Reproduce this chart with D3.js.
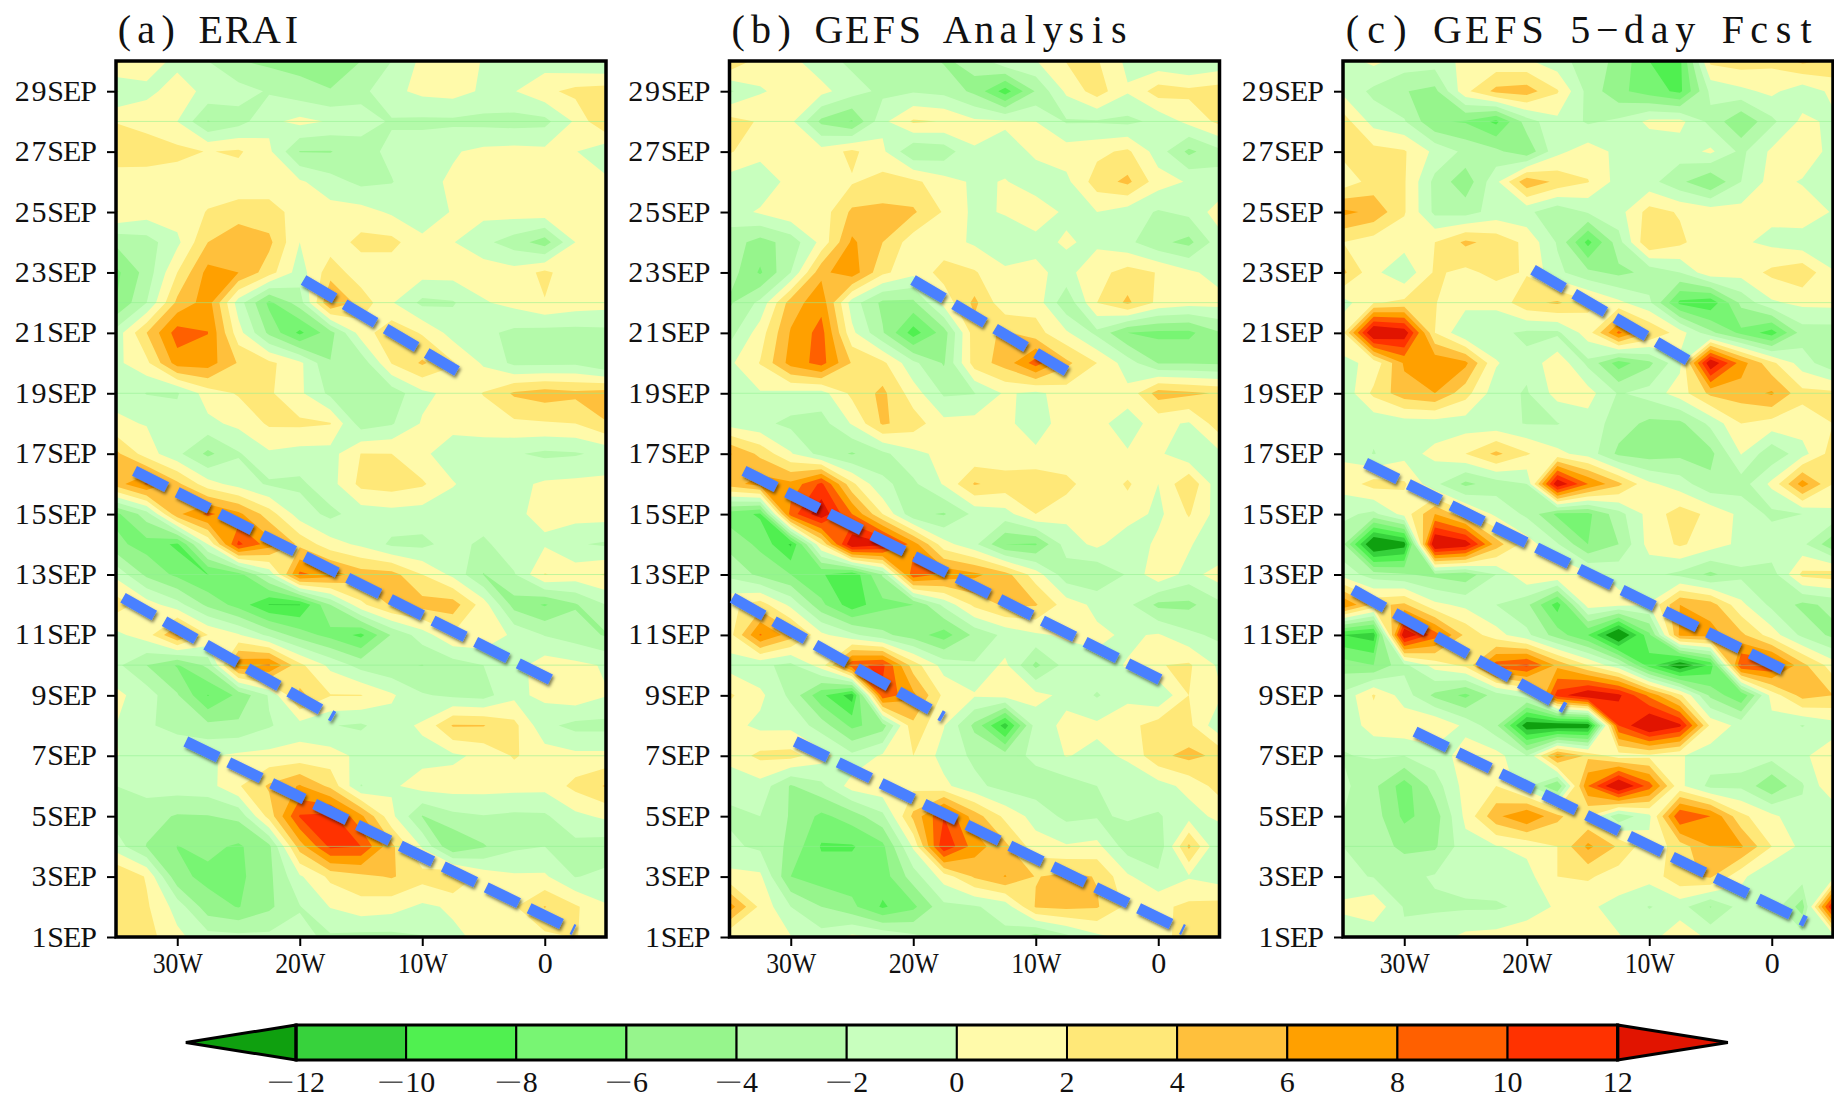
<!DOCTYPE html>
<html>
<head>
<meta charset="utf-8">
<script src="https://cdn.jsdelivr.net/npm/d3@7"></script>
<style>
  html, body { margin: 0; padding: 0; background: #fff; }
  svg { display: block; }
  text { font-family: "Liberation Serif", serif; fill: #111; }
</style>
</head>
<body>
<svg id="chart" width="1834" height="1096"></svg>
<script>
// longitudes of the grid columns, 35W .. 5E
var lons = [-35,-32.5,-30,-27.5,-25,-22.5,-20,-17.5,-15,-12.5,-10,-7.5,-5,-2.5,0,2.5,5];
// days of the grid rows, top row first
var days = d3.range(30, 0, -1);

var levels = [-12,-10,-8,-6,-4,-2,0,2,4,6,8,10,12];
var bandColors = ["rgb(15,160,15)","rgb(55,210,60)","rgb(80,240,80)","rgb(120,245,115)","rgb(150,245,140)",
  "rgb(180,250,170)","rgb(200,255,190)","rgb(255,250,170)","rgb(255,232,120)","rgb(255,192,60)",
  "rgb(255,160,0)","rgb(255,96,0)","rgb(255,50,0)","rgb(225,20,0)"];

var yTicks = d3.range(1, 30, 2);
var xTicks = [-30,-20,-10,0];
var seamDays = [4,7,10,13,19,22,28];

var gridErai = [
[2.5,1,-0.5,-2,-3.9,-4.5,-4.8,-5,-4,-2,0.5,1.7,-0.2,-1,-1,-1.8,-2.2],
[-2.2,-0.5,0.8,-0.5,-1.2,-2.2,-3.2,-3.9,-2.6,-0.5,0.5,0.8,-0.3,-0.1,1.5,2.6,3],
[1.9,1.2,0,-4.1,-2.8,-0.5,0.6,-0.2,-1.2,-2.2,-2.4,-2.4,-2.6,-2.8,-2.6,0.3,4.2],
[3.5,3.2,2.6,1.9,2.3,0.4,-4.1,-4.1,-2.8,-1.5,-1,-0.2,0.5,0.7,0.5,0.1,-1.6],
[0.6,0.8,0.8,1.2,0.9,0.9,0.3,-1.2,-2.5,-2.1,-0.6,0.3,0.8,0.8,0.8,0.8,0.5],
[2.1,1,1,2.1,2.8,2.8,1.2,0.8,0.8,-0.3,-1.5,0.2,0.6,0.9,1.2,1.6,0.3],
[-3.6,-2.9,-0.5,4,5.8,4.5,0,0.9,2.6,2.6,0.6,0.1,-1.5,-3,-5,0,0.3],
[-6.5,-3.2,2,6.7,6,2.9,-1,3.2,0.8,0.8,0.8,0.8,1.2,0.8,2.5,0.6,0.5],
[-6,-2,4.5,7,-1,-6.5,-3,6.2,3.2,0.2,-2.5,-2.2,-0.2,0.6,1.9,1.1,0.8],
[-1.2,4,9,8.05,0.8,-4.5,-8.5,-4.8,1,3.3,1.8,-0.8,-1.5,-2.5,-2.8,-2.8,-2.6],
[-0.5,1.5,7,7,3.8,2.5,0.5,-3.9,-3.4,2.1,4.3,2.2,-0.3,-2.5,-2.5,-2.4,-4.1],
[-0.5,-2.1,-2.2,1,2.2,2.3,0.4,-2.5,-3.7,-3.2,-0.5,0.6,2.1,4.3,5,4.5,5],
[0.3,-0.1,-1.2,-0.5,0.5,2.3,2.4,2.1,-3,-2.2,0.2,0.5,1,1.6,1.8,2,3.9],
[4.5,1,-1.5,-4.5,-2.2,-0.3,-0.8,-0.8,2.05,2,0.3,-0.8,-1.2,-1.8,-2.4,-2.2,-1.5],
[5,8.3,4.5,0.8,-0.8,-2.3,-2.4,-0.8,2.6,3,2.3,0.1,-0.8,-0.5,0.3,0.5,0.6],
[-6.5,-3,5.5,8.5,6.5,3,-1,-2.5,-1.1,-0.8,-1,-0.8,-0.6,-0.2,0.3,0.8,0.8],
[-5.5,-6.8,-8.4,0,10.5,7,3.5,0.8,-0.4,-2.4,-2.5,-1.2,-2.5,-0.5,-0.2,-1.8,-2.3],
[-0.5,-4.5,-6.5,-8.05,-6.9,-1.5,8.5,7,5,4.8,2,-0.5,-4.1,-2.2,2.1,1.2,2.2],
[3,1,-1.2,-4.5,-6.8,-10.1,-10.1,-4,1.5,4.3,4.8,5,1,-4.8,-6.2,-4.2,-2],
[-0.5,1,6.3,2,0.2,-2.5,-5,-6.7,-8.5,-3.8,-1,1.8,1.7,-0.5,-2.1,-3,-4.2],
[-1.5,-4,-6.2,-3.5,7.5,8.3,2.5,-0.5,-2.8,-3.7,-4.05,-3,-2,-0.8,1,0.5,-0.2],
[0.5,-1,-3.8,-8.1,-5.5,-1.8,4.5,2.1,2.1,0.3,-1.8,-2.4,-2.8,-0.5,0.5,1.3,0.1],
[0,-1.8,-2.5,-3.5,-3.6,-2.2,-0.8,-1.9,-2.3,-0.8,0.3,4.2,4.1,2.6,-1.5,-2.6,-2.6],
[0.05,-0.5,-0.8,-0.2,0.4,0.6,0.7,0.8,-0.5,-0.8,-0.6,-0.4,0.5,2.2,1,0.5,0.5],
[-2,-1.2,-1,-0.8,1.8,4.3,6.2,3.5,-2.1,-0.3,0.8,0.9,0.8,0.7,0.6,2.6,4.2],
[-3,-3.2,-4.2,-4.1,-3.5,2.8,10.2,10.7,6.5,0.5,-4.1,-2.5,-2.1,-2.4,-2.3,-0.5,0.4],
[-1,-4.1,-6.05,-5.5,-6.3,-4.5,5,10.5,10,4.5,-0.2,-6,-4.2,-2.4,-2,-2.6,-3.1],
[4.1,1.8,-5.5,-6.5,-6.5,-4.5,-0.3,2.5,3.5,4.2,2.8,4.1,1.2,0.3,0.3,-2.1,-1.5],
[2.5,2.3,-0.8,-5.2,-6.1,-4.4,-2.1,0.1,1.2,0.8,-0.4,0.3,0.8,1.8,4.1,2.3,0.2],
[3,2.8,0.5,-1.2,-1.4,-1.5,-1.6,-2.3,-2.6,-2.6,-2.1,-0.4,0.5,1.2,1.5,2.1,1]
];

var gridAnalysis = [
[4,1,0.5,-1.1,-2.5,-2.2,-2.8,-4.2,-3.5,-0.3,-0.1,2.1,2.2,-0.5,-1.5,-2.2,-1.5],
[-2.3,-0.2,0.7,0.6,-1.1,-2.5,-2.2,-2.6,-4.5,-9,-3.8,0.4,3,0.2,3,2.5,3],
[2.8,1.8,0.5,-4.5,-6.2,-0.5,2.3,1.9,0.4,0.3,0,-2.2,-2.2,-2.5,-1.5,0.6,2.5],
[2.2,0.8,1.7,0.8,2.5,0.4,-3.8,-3.2,-0.1,-0.8,0.3,1,1.5,2.4,-1,-4.5,-2.5],
[-1,-1.6,0.8,0.9,1.8,2.8,2.5,0.8,-0.3,0.1,-0.8,-0.5,3,4.5,0.9,-0.2,-1.5],
[-1,0.3,1.5,0.9,4.4,4.5,4.3,1.8,-0.5,0.2,0.9,-0.3,0,-1,-2.2,-1.5,1],
[-3,-4.8,-3.2,0.6,6.4,4,0.9,0.8,-0.3,-1.5,-0.5,0.2,-0.4,-1.5,-3.5,-4.6,-0.8],
[-3,-6.3,-2,5.5,7.2,2.5,0.6,2.8,2.2,0.4,0.4,-0.6,1.3,2.8,1.9,0.4,-0.8],
[-4.3,-1.5,5,7.3,-1,-4.5,-4.5,0.8,4.5,0.5,1.2,-3.5,2,4.4,1.5,0.8,0.7],
[-2.8,1,6.2,8.8,0.5,-3.8,-9,-5,3.2,4.3,2.8,0.3,-2.5,-6,-6.5,-6.5,-4.2],
[-0.4,2.1,6.8,8.8,3.8,2.5,-1.5,-4.2,3,4.8,9,4.5,2,-1,-4.1,-4.1,-4.3],
[-0.6,-0.2,-0.6,-0.8,2.5,4.5,1,-2.3,-2.1,0.3,-0.5,1,0.5,0.5,5,4.4,3.8],
[-0.8,-1.5,-2.5,-2.8,0.2,4.3,3,0.6,0.8,0.7,-1.5,1.5,0.3,-0.5,0.5,-0.2,3.2],
[6.2,3.5,0.2,-2.8,-4.2,-2.5,-0.5,0.5,0.3,0.5,0.6,0.1,0.6,0.1,0.4,-1.6,-0.4],
[5,7,6.5,10.5,2.5,-1.8,-2.4,0.2,4.2,3.2,3.3,2.8,0.3,2.3,0,3.8,-1.6],
[-7,-8.3,9,13.5,8,2,-3.5,-4.2,-1.5,-0.8,2,0.5,0.3,1,-0.5,2.2,-1],
[-4.6,-6.5,-10.3,2,14,12.5,7,0.8,-1.5,-6,-6.2,-1,0.5,-1.5,0.5,0.3,-2],
[-2.5,-4.5,-6,-7.8,-9.5,-3.8,9.5,7.5,6.5,4.8,1,-3.2,-3.8,-1.8,1.5,-0.8,1],
[1.5,3,-0.5,-5.5,-9.2,-6.6,-6,-1.5,2.5,4.4,4.2,1,-0.5,-1.5,-4.5,-4.5,-2.5],
[1.2,8.2,5,0.5,-1.5,-3.5,-5,-7,-3.5,-1.5,-0.3,0.3,0.4,-0.3,0.2,-1.5,-2.5],
[-0.8,-1.6,-2.5,1,9.5,10.5,3,-0.8,-1.8,0.5,-4.5,-1.2,-0.5,0.1,1.9,2.3,-0.4],
[2.3,0.5,-2.5,-7.5,-11,9.5,6.5,1.5,0.2,0.8,0.6,-0.5,-2.2,-0.5,-1.8,2,0.3],
[0.7,-0.5,-0.5,-3,-6.5,-5,3.5,0.1,-4.5,-11,-1,0.5,0.4,1.3,3,2.5,-1.5],
[0.8,2.5,2.7,0.9,-1.5,0.3,2,-0.8,-2.4,-3,-1.5,0.1,-0.5,0.3,3.5,4.6,3.5],
[-1.5,-0.8,-4.2,-2.5,0.9,1.5,1.5,0.5,-1.5,-2.7,-3,-3,-2,-1.2,-0.8,0.6,2.8],
[-2.3,-2,-4.2,-6.5,-5,-2.5,4.5,10,5,1.5,-0.8,-2.5,-2.2,-1.8,-2.2,-0.8,0.5],
[-1.6,-2.4,-4.5,-8.2,-8.2,-6.5,0.3,11.8,7,4.5,0.9,0.2,0.6,-3,-3.5,4.4,-2],
[0.6,0.4,-6,-7,-7,-7,-3,0.9,4.3,6.1,3.9,4.5,3.9,0.3,-1.5,-0.2,-1],
[7,1.5,-2,-4,-5.5,-8.3,-6.5,-2.5,-2.2,-1.2,4.2,4.5,4.2,1.5,1.5,2.5,2.8],
[0.3,0.5,0.1,-1.2,0.5,-0.2,-1.5,-2.8,-2,-2.5,-5,-2.6,-0.5,0.5,0.8,3.5,3]
];

var gridForecast = [
[-0.8,0.5,-0.8,-1,0.5,0.5,0.3,-1.2,-3,-4.5,-8,-8.5,2.5,3,2.5,4.5,3.8],
[-0.5,-2.5,-3.9,-4.6,1.5,4.6,5,2.2,-2.7,-5.5,-7,-8.5,-1.5,-0.5,0.5,-1.3,0.5],
[3,-0.8,-1.8,-5.8,-6.2,-8.5,-3,-0.5,-2.3,-1.6,0.5,0.6,-2.6,-5.8,-2.5,0.5,-0.4],
[2.5,2.7,2.2,-0.5,-2.5,-3.5,-5.5,-0.5,1,-0.5,-1.5,-1,0.4,-2.5,0.4,1.5,-0.8],
[0.8,2.8,2.2,-2.6,-5.3,-0.5,5.5,3.5,2.1,-0.8,-1.3,-3.5,-6,-2,0.8,-0.2,-1.5],
[6.5,5.5,2.2,-2.5,-2.8,-1.2,-1.5,-3.5,-1.8,-0.8,2.8,1.8,1.2,0.8,0.5,1.5,-0.2],
[2,1,0.8,2,4.4,3.3,1.5,-2.2,-8.7,-2.8,4,2.5,0.3,0.3,-0.5,-1.3,-1.8],
[4.5,0.5,-1.5,2.3,1.5,2.6,1.8,-1.5,-3.5,-4.5,-3.5,-2,1.5,0.8,2.5,3.5,0.2],
[-0.8,1.8,2.5,2.1,0.6,0.5,3.5,4.3,2.5,0.5,-1.5,-8.5,-9.5,-3.5,-0.3,0.5,0.6],
[1.5,15,13.5,2,-1.8,-1.5,-2.4,-2.4,1,8.5,4,1,-3.5,-6.5,-9,-3,-3],
[-0.5,0.5,6.3,7.5,6.5,0.2,-1.5,1.5,-2.5,-7,-4.5,-0.5,14,7,2.5,-1,-3.5],
[-1.5,2.5,5.2,6,2.8,-1.2,-2.2,0.8,0.8,-2.2,-1.2,1,4.5,5,6.3,2.6,2.5],
[-1.8,-1.5,-1,-1,-1,-1.4,-2.1,-2.1,-0.8,-3,-4.5,-4.5,-1.5,2,1.2,1,2],
[-0.3,-2.1,-0.7,0.5,2,4.5,2.2,0.5,-0.8,-4.5,-5,-4.5,-4.6,0.1,-3.5,-0.8,3],
[0.8,2.8,2.3,-1.5,-4.5,-3,-2,14,8,4.5,0.4,-1,-3.5,-3,0.5,7,2],
[-1.5,-2.5,0.8,6,2.5,-0.5,-2.4,-6.5,-6.5,-2.8,0.8,3,1.5,-0.5,-2.5,-2,-0.5],
[-3.5,-15,-13,15,13.5,5,1,-1.8,-6,-4,0.8,2.3,1,-0.5,-0.5,-1.5,-5.5],
[-0.8,-3,-3.8,-4.5,-5.2,-2,1.8,2,0.5,-0.5,-1.5,-2.5,-4.5,-2.5,-3,2.5,3],
[8,3.5,4.4,0.5,-0.5,-2,-3.5,-9,1,0.5,0.1,6,5,0.5,-2.5,-4.5,-3.5],
[-10,-11,14,9,3.5,0.8,-1.5,-5,-8,-15,-6.5,6.5,6.8,4.5,1,-2.5,-4.5],
[-5,-6,-2.5,0.8,2.5,9,10.5,5.5,2,-1.5,-9,-14,-9.5,10.2,10,4.6,1],
[-1.5,2.2,-1,-4.5,-6.5,-3,-1,11,14,12.5,7.5,2.5,-4.5,-7.8,0.8,4.8,4],
[-1.5,1,1.5,2,-0.5,-3.5,-13.5,-13.8,-13.5,10,15,12.5,1.5,-0.7,-0.8,-2.1,-0.8],
[-2.1,-1.8,-2,-1,0.8,0.8,-2,7,3.5,1,1.5,0.2,-1,-1.5,-1.2,-0.3,1],
[-1.5,-3.5,-7,-3,0.8,2,-1.5,-6,8,15,9,0.5,-2.6,-2.4,-5.8,-2.2,1.8],
[-2,-3,-6.5,-5,0.5,5.5,8,4.5,2,-3.5,-0.5,10,8,2.5,0.5,-1.5,-1.8],
[-2,-3,-4.5,-4.3,-0.7,-0.1,0.5,2,6.5,3.7,0.6,3,6,6.3,2,-0.6,-1.8],
[-1.6,-2.1,-2.5,-1.8,-1.2,-0.8,-0.7,2,2.3,1,0.7,3.5,4.3,0.5,-2,-1,-0.8],
[0.5,1.5,-2.2,-2.3,-2.3,-2.3,-1.5,0.4,0.3,-0.6,-2.1,-1.2,-4.1,-1.2,-0.8,-5,12.5],
[-1.5,-1.5,-1.6,-0.8,0.5,0.8,1.8,0.6,0.4,0.1,-0.8,1.5,-0.5,-1.2,-1.2,-1.2,-1.2]
];

// dashed ridge lines as [lon0, day0, lon1, day1]
var ridgesErai = [
  [-19.69,22.75,-7.16,19.74],
  [-33.49,16.43,0.54,9.51],
  [-34.43,12.23,-17.24,8.29],
  [-29.3,7.47,2.39,1.23]
];
var ridgesAnalysis = [
  [-20.02,22.75,-7.49,19.74],
  [-33.82,16.43,0.21,9.51],
  [-34.76,12.23,-17.57,8.29],
  [-29.63,7.47,2.06,1.23]
];
var ridgesForecast = [
  [-19.49,23.09,-6.67,20.05],
  [-33.16,16.69,0.98,9.84],
  [-34.18,12.49,-16.91,8.58],
  [-29.12,7.8,2.75,1.51]
];

var panels = [
  {id: "a", title: "(a) ERAI", titleCell: 13.5, left: 116, grid: gridErai, ridges: ridgesErai},
  {id: "b", title: "(b) GEFS Analysis", titleCell: 14, left: 729.5, grid: gridAnalysis, ridges: ridgesAnalysis},
  {id: "c", title: "(c) GEFS 5\u2212day Fcst", titleCell: 15.4, left: 1343, grid: gridForecast, ridges: ridgesForecast}
];

var width = 490, height = 876, panelTop = 61;
var svg = d3.select("#chart");
var ctx = document.createElement("canvas").getContext("2d");

// place every glyph in its own cell, cell width = fixed part + share of the glyph width
function cellText(sel, size, fixed, share, anchor) {
  sel.each(function() {
    var t = d3.select(this), str = t.text();
    ctx.font = size + "px 'Liberation Serif'";
    var chars = Array.from(str);
    var widths = chars.map(function(c) { return ctx.measureText(c).width; });
    var cells = widths.map(function(w) { return fixed + share * w; });
    var x0 = +t.attr("x") || 0;
    if (anchor == "end") x0 -= d3.sum(cells);
    var run = x0;
    var xs = chars.map(function(c, i) {
      var at = run + (cells[i] - widths[i]) / 2;
      run += cells[i];
      return at;
    });
    t.attr("text-anchor", "start").attr("x", xs.join(" ")).style("font-size", size + "px");
  });
}

var defs = svg.append("defs");
var shadow = defs.append("filter").attr("id", "shadow")
    .attr("filterUnits", "userSpaceOnUse")
    .attr("x", -20).attr("y", -20).attr("width", width + 40).attr("height", height + 40);
shadow.append("feDropShadow").attr("dx", 1.5).attr("dy", 2.5).attr("stdDeviation", 1.6)
    .attr("flood-color", "#000").attr("flood-opacity", 0.5);

var x = d3.scaleLinear().domain([-35, 5]).range([0, width]);
var y = d3.scaleLinear().domain([1, 30]).range([height, 0]);

var contours = d3.contours().size([lons.length, days.length]).thresholds(levels).smooth(true);
// contour coordinates put grid node i at i + 0.5
var gridX = d3.scaleLinear().domain([0.5, lons.length - 0.5]).range([lons[0], lons[lons.length - 1]]);
var gridY = d3.scaleLinear().domain([0.5, days.length - 0.5]).range([days[0], days[days.length - 1]]);
var path = d3.geoPath(d3.geoTransform({
  point: function(px, py) { this.stream.point(x(gridX(px)), y(gridY(py))); }
}));

panels.forEach(function(p) {
  var g = svg.append("g").attr("transform", "translate(" + p.left + "," + panelTop + ")");

  defs.append("clipPath").attr("id", "clip-" + p.id)
    .append("rect").attr("width", width).attr("height", height);

  var field = g.append("g").attr("clip-path", "url(#clip-" + p.id + ")");
  field.append("rect").attr("width", width).attr("height", height).attr("fill", bandColors[0]);
  field.selectAll("path.band")
    .data(contours(d3.merge(p.grid)))
    .enter().append("path")
      .attr("class", "band")
      .attr("d", path)
      .attr("fill", function(d) { return bandColors[levels.indexOf(d.value) + 1]; });

  // thin seams left by the plotting package
  field.selectAll("line.seam").data(seamDays).enter().append("line")
      .attr("class", "seam")
      .attr("x1", 0).attr("x2", width)
      .attr("y1", function(d) { return y(d); }).attr("y2", function(d) { return y(d); })
      .attr("stroke", "#8ff08f").attr("stroke-width", 1).attr("opacity", 0.55);

  var yAxis = g.append("g").call(d3.axisLeft(y).tickValues(yTicks).tickSize(9).tickPadding(10)
    .tickFormat(function(d) { return d + "SEP"; }));
  var xAxis = g.append("g").attr("transform", "translate(0," + height + ")")
    .call(d3.axisBottom(x).tickValues(xTicks).tickSize(9).tickPadding(5)
    .tickFormat(function(d) { return d < 0 ? (-d) + "W" : d; }));
  [yAxis, xAxis].forEach(function(a) {
    a.select(".domain").remove();
    a.selectAll("line").attr("stroke", "#000").attr("stroke-width", 2);
    a.attr("font-family", null).attr("font-size", null);
  });
  yAxis.selectAll("text").attr("x", -19).attr("dy", "0.3em").call(cellText, 30, 16.6, 0, "end");
  xAxis.selectAll("text").attr("dy", "0.72em").style("font-size", "30px")
      .filter(function(d) { return d != 0; })
      .attr("textLength", 50).attr("lengthAdjust", "spacingAndGlyphs");

  g.append("rect").attr("width", width).attr("height", height)
      .attr("fill", "none").attr("stroke", "#000").attr("stroke-width", 3.5);

  g.selectAll("line.ridge").data(p.ridges).enter().append("line")
      .attr("class", "ridge")
      .attr("x1", function(d) { return x(d[0]); }).attr("y1", function(d) { return y(d[1]); })
      .attr("x2", function(d) { return x(d[2]); }).attr("y2", function(d) { return y(d[3]); })
      .attr("stroke", "#4a80ff").attr("stroke-width", 11)
      .attr("stroke-dasharray", "36 11.7")
      .attr("filter", "url(#shadow)");

  g.append("text").attr("x", -2).attr("y", -18).text(p.title).call(cellText, 40, p.titleCell, 0.54, "start");
});

// colour bar
var barX = d3.scaleLinear().domain([-12, 12]).range([296, 1617.7]);
var barTop = 1025, barBottom = 1060, barMid = (barTop + barBottom) / 2;
var bar = svg.append("g");
var cells = d3.pairs(levels);
bar.selectAll("rect").data(cells).enter().append("rect")
    .attr("x", function(d) { return barX(d[0]); })
    .attr("width", function(d) { return barX(d[1]) - barX(d[0]); })
    .attr("y", barTop).attr("height", barBottom - barTop)
    .attr("fill", function(d, i) { return bandColors[i + 1]; })
    .attr("stroke", "#000").attr("stroke-width", 2);
var tips = [[-12, -14, bandColors[0]], [12, 14, bandColors[bandColors.length - 1]]];
bar.selectAll("path").data(tips).enter().append("path")
    .attr("d", function(d) {
      return "M" + barX(d[0]) + "," + barTop + "L" + barX(d[1]) + "," + barMid + "L" + barX(d[0]) + "," + barBottom + "Z";
    })
    .attr("fill", function(d) { return d[2]; })
    .attr("stroke", "#000").attr("stroke-width", 3).attr("stroke-linejoin", "miter");
bar.append("rect").attr("x", barX(-12)).attr("y", barTop)
    .attr("width", barX(12) - barX(-12)).attr("height", barBottom - barTop)
    .attr("fill", "none").attr("stroke", "#000").attr("stroke-width", 3);
var barLabels = bar.selectAll("text").data(levels).enter().append("text")
    .attr("x", function(d) { return barX(d); })
    .attr("y", 1091.5)
    .attr("text-anchor", "middle")
    .style("font-size", "30px");
// the minus sign is drawn long and thin in the reference
barLabels.filter(function(d) { return d < 0; }).append("tspan")
    .attr("textLength", 28).attr("lengthAdjust", "spacingAndGlyphs").style("fill", "#555").text("\u2212");
barLabels.append("tspan")
    .text(function(d) { return Math.abs(d); });
</script>
</body>
</html>
